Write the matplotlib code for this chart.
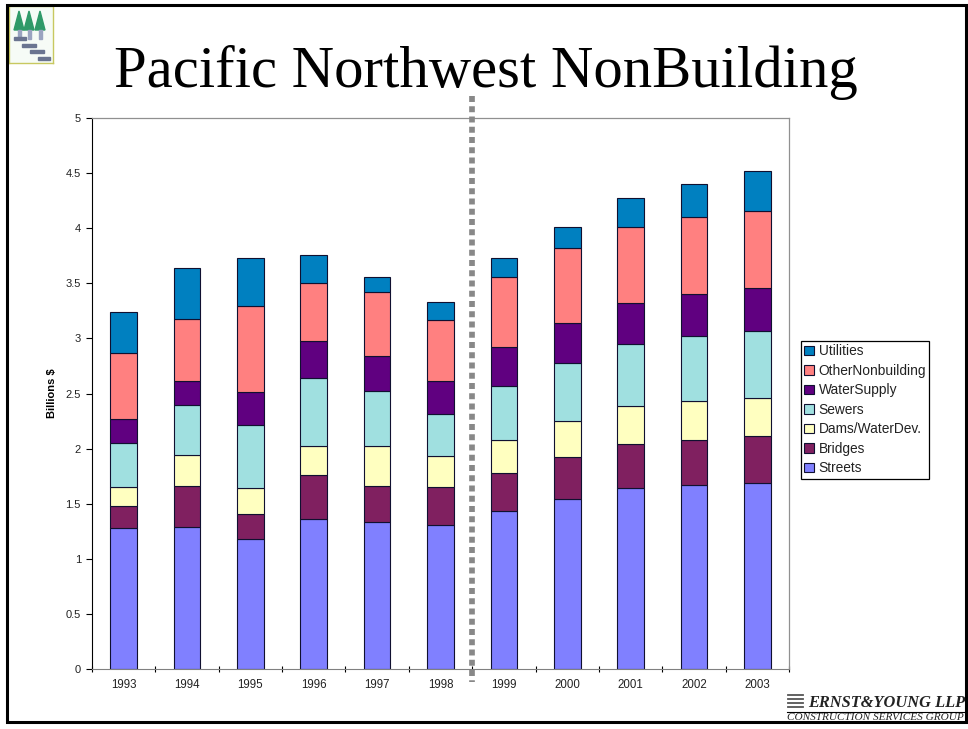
import numpy as np
import matplotlib
matplotlib.use("Agg")
import matplotlib.pyplot as plt
from matplotlib.patches import Rectangle, Polygon

years = ["1993", "1994", "1995", "1996", "1997", "1998", "1999", "2000", "2001", "2002", "2003"]

streets = [1.28, 1.29, 1.18, 1.36, 1.33, 1.31, 1.43, 1.54, 1.64, 1.67, 1.69]
bridges = [0.20, 0.37, 0.23, 0.40, 0.33, 0.34, 0.35, 0.38, 0.40, 0.41, 0.42]
dams = [0.17, 0.28, 0.23, 0.26, 0.36, 0.28, 0.30, 0.33, 0.35, 0.35, 0.35]
sewers = [0.40, 0.46, 0.57, 0.62, 0.50, 0.38, 0.49, 0.53, 0.56, 0.59, 0.61]
water_supply = [0.22, 0.21, 0.30, 0.34, 0.32, 0.30, 0.35, 0.36, 0.37, 0.38, 0.39]
other = [0.60, 0.57, 0.78, 0.52, 0.58, 0.56, 0.64, 0.68, 0.69, 0.70, 0.70]
utilities = [0.37, 0.46, 0.44, 0.26, 0.14, 0.16, 0.17, 0.19, 0.26, 0.30, 0.36]

series_names = ["Streets", "Bridges", "Dams/WaterDev.", "Sewers", "WaterSupply", "OtherNonbuilding", "Utilities"]
series_values = [streets, bridges, dams, sewers, water_supply, other, utilities]
colors = ["#8080ff", "#802060", "#ffffc0", "#a0e0e0", "#600080", "#ff8080", "#0080c0"]

W, H = 968, 729
plt.rcParams["font.family"] = ["Liberation Sans", "DejaVu Sans"]
fig = plt.figure(figsize=(W / 100, H / 100), dpi=100)


def px_box(x0, y0, x1, y1):
    return [x0 / W, 1 - y1 / H, (x1 - x0) / W, (y1 - y0) / H]


# slide frame
fig.add_artist(Rectangle((7 / W, 1 - 722 / H), 959 / W, 717 / H, transform=fig.transFigure,
                         fill=False, ec="black", lw=2.2))

ax = fig.add_axes(px_box(92, 118, 789, 669))
x = np.arange(len(years))
bottom = np.zeros(len(years))
for name, vals, col in zip(series_names, series_values, colors):
    ax.bar(x, vals, 0.42, bottom=bottom, color=col, edgecolor="#101030", linewidth=0.8, label=name)
    bottom += np.array(vals)

ax.set_xlim(-0.5, 10.5)
ax.set_ylim(0, 5)
ax.set_yticks(np.arange(0, 5.5, 0.5))
ax.set_yticklabels(["0", "0.5", "1", "1.5", "2", "2.5", "3", "3.5", "4", "4.5", "5"], fontsize=8, color="#222222")
ax.set_xticks(np.arange(-0.5, 11, 1))
ax.set_xticklabels([])
ax.set_xticks(x, minor=True)
ax.set_xticklabels(years, minor=True, fontsize=8.3, color="#222222")
ax.tick_params(axis="x", which="minor", length=0, pad=7.5)
ax.tick_params(axis="x", which="major", direction="inout", length=5, width=0.8, color="black")
ax.tick_params(axis="y", direction="out", length=4, width=0.8, color="black", pad=4)
ax.set_ylabel("Billions $", fontsize=8, fontweight="bold", labelpad=6)
ax.spines["top"].set_color("#909090")
ax.spines["right"].set_color("#909090")
ax.spines["top"].set_linewidth(0.9)
ax.spines["right"].set_linewidth(0.9)
ax.spines["left"].set_color("black")
ax.spines["bottom"].set_color("#808080")

# forecast divider
fig.add_artist(plt.Line2D([472 / W, 472 / W], [1 - 96 / H, 1 - 682 / H], color="#888888", lw=4.1,
                          dashes=(1.05, 0.75), transform=fig.transFigure, zorder=5))

handles, labels = ax.get_legend_handles_labels()
leg = fig.legend(handles[::-1], labels[::-1], loc="upper left", bbox_to_anchor=(801 / W, 1 - 341 / H),
                 fontsize=9.9, frameon=True, fancybox=False, edgecolor="black", framealpha=1,
                 handlelength=0.72, handleheight=0.72, handletextpad=0.32, labelspacing=0.4,
                 borderpad=0.24, borderaxespad=0)
leg.get_frame().set_linewidth(0.9)
for t in leg.get_texts():
    t.set_color("#222222")

fig.text(486 / W, 1 - 72 / H, "Pacific Northwest NonBuilding", ha="center", va="center",
         fontsize=42.2, family="Liberation Serif", color="black")

# logo, top left
logo = fig.add_axes(px_box(9, 6, 53, 63))
logo.set_xlim(9, 53)
logo.set_ylim(63, 6)
logo.set_xticks([])
logo.set_yticks([])
logo.set_facecolor("#f6fbf6")
for s in logo.spines.values():
    s.set_color("#c8c860")
    s.set_linewidth(1.0)
for cx in [19, 29, 40]:
    logo.add_patch(Polygon([[cx - 5, 30], [cx + 5, 30], [cx, 11]], color="#2f9a68"))
    logo.add_patch(Rectangle((cx - 1.5, 30), 3, 9, color="#9aa4c0"))
for sx, sy, sw in [(14, 37, 12), (22, 44, 14), (30, 50, 14), (38, 57, 12)]:
    logo.add_patch(Rectangle((sx, sy), sw, 2.5, color="#6a7490"))

# firm mark, bottom right
fig.text(808 / W, 1 - 703 / H, "ERNST&YOUNG LLP", ha="left", va="center", fontsize=11.8,
         family="Liberation Serif", style="italic", fontweight="bold", color="#222222")
fig.add_artist(plt.Line2D([787 / W, 965 / W], [1 - 712 / H, 1 - 712 / H], color="black", lw=0.8,
                          transform=fig.transFigure))
fig.text(787 / W, 1 - 718 / H, "CONSTRUCTION SERVICES GROUP", ha="left", va="center", fontsize=8.1,
         family="Liberation Serif", style="italic", color="#222222")
for yy in [695, 699, 703, 707]:
    fig.add_artist(plt.Line2D([788 / W, 803 / W], [1 - yy / H, 1 - yy / H], color="#555555", lw=1.3,
                              transform=fig.transFigure))

fig.savefig("out.png", dpi=100)
